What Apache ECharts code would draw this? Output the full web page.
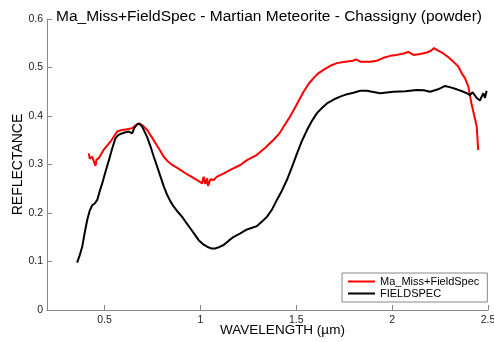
<!DOCTYPE html>
<html><head><meta charset="utf-8">
<script src="https://cdn.jsdelivr.net/npm/echarts@6/dist/echarts.min.js"></script>
<style>html,body{margin:0;padding:0;background:#fff}#c{width:494px;height:342px}</style>
</head><body><div id="c"></div>
<script>
const seriesNames = ['Ma_Miss+FieldSpec', 'FIELDSPEC'];
const xTicks = [0.5, 1, 1.5, 2, 2.5];

const mamissWavelength = [0.418,0.423,0.435,0.446,0.453,0.458,0.470,0.495,0.531,0.566,0.590,0.618,0.645,0.660,0.679,0.700,0.722,0.744,0.766,0.788,0.809,0.831,0.853,0.875,0.896,0.918,0.939,0.961,0.983,1.009,1.017,1.026,1.035,1.040,1.052,1.069,1.087,1.120,1.156,1.208,1.243,1.295,1.340,1.382,1.410,1.434,1.460,1.486,1.512,1.538,1.564,1.590,1.615,1.642,1.675,1.712,1.755,1.798,1.812,1.833,1.885,1.920,1.955,1.990,2.025,2.059,2.085,2.111,2.146,2.181,2.200,2.219,2.240,2.267,2.290,2.311,2.330,2.345,2.363,2.380,2.398,2.407,2.415,2.432,2.441,2.449];
const mamissReflectance = [0.323,0.312,0.316,0.305,0.297,0.310,0.313,0.330,0.347,0.368,0.371,0.3725,0.375,0.380,0.385,0.380,0.371,0.358,0.344,0.330,0.316,0.306,0.299,0.294,0.289,0.283,0.278,0.273,0.268,0.261,0.275,0.260,0.2715,0.2557,0.2695,0.268,0.275,0.281,0.289,0.299,0.309,0.320,0.335,0.351,0.363,0.378,0.394,0.412,0.431,0.450,0.466,0.478,0.488,0.495,0.503,0.509,0.512,0.514,0.517,0.512,0.512,0.514,0.520,0.524,0.526,0.529,0.532,0.526,0.528,0.531,0.534,0.540,0.535,0.529,0.522,0.515,0.508,0.502,0.488,0.478,0.460,0.440,0.423,0.395,0.378,0.330];

const fieldspecWavelength = [0.357,0.370,0.384,0.397,0.410,0.423,0.436,0.450,0.462,0.475,0.488,0.505,0.523,0.540,0.557,0.570,0.583,0.605,0.627,0.644,0.655,0.670,0.682,0.696,0.722,0.740,0.757,0.775,0.792,0.809,0.827,0.844,0.861,0.883,0.905,0.926,0.948,0.970,0.991,1.013,1.035,1.056,1.078,1.100,1.121,1.148,1.174,1.208,1.243,1.295,1.320,1.347,1.373,1.399,1.425,1.451,1.478,1.504,1.530,1.556,1.582,1.608,1.635,1.660,1.695,1.729,1.765,1.798,1.833,1.868,1.9375,2.007,2.070,2.128,2.165,2.198,2.240,2.276,2.305,2.337,2.365,2.389,2.406,2.420,2.441,2.458,2.467,2.476,2.484,2.493];
const fieldspecReflectance = [0.0976,0.112,0.131,0.160,0.186,0.205,0.216,0.220,0.227,0.245,0.261,0.285,0.309,0.333,0.354,0.360,0.363,0.366,0.368,0.364,0.375,0.383,0.384,0.378,0.357,0.337,0.316,0.295,0.275,0.255,0.237,0.224,0.213,0.202,0.192,0.180,0.168,0.156,0.144,0.136,0.1305,0.127,0.127,0.130,0.134,0.143,0.151,0.158,0.166,0.173,0.182,0.192,0.207,0.227,0.246,0.268,0.295,0.323,0.349,0.371,0.390,0.406,0.417,0.426,0.434,0.440,0.445,0.448,0.452,0.452,0.447,0.450,0.451,0.4536,0.453,0.450,0.455,0.462,0.459,0.455,0.451,0.447,0.443,0.449,0.437,0.432,0.440,0.447,0.437,0.452];

const zip = (a, b) => a.map((v, i) => [v, b[i]]);
const font = 'Liberation Sans, Arial, Helvetica, sans-serif';
const chart = echarts.init(document.getElementById('c'));
chart.setOption({
  animation: false,
  backgroundColor: '#fff',
  title: {
    text: 'Ma_Miss+FieldSpec - Martian Meteorite - Chassigny (powder)',
    left: 56, top: 9, padding: 0,
    textStyle: {fontFamily: font, fontSize: 15.5, fontWeight: 'normal', color: '#000'}
  },
  legend: {
    orient: 'vertical', left: 342, top: 273,
    padding: [3, 8, 3, 6], itemGap: 1, itemWidth: 27, itemHeight: 2, icon: 'rect',
    backgroundColor: '#fff', borderColor: '#888', borderWidth: 1,
    textStyle: {fontFamily: font, fontSize: 11, color: '#000'},
    data: seriesNames
  },
  grid: {left: 47, top: 19, right: 6, bottom: 32, outerBoundsMode: 'none'},
  xAxis: {
    type: 'value', min: 0.2, max: 2.5,
    name: 'WAVELENGTH (µm)', nameLocation: 'middle', nameGap: 13, nameMoveOverlap: false,
    nameTextStyle: {fontFamily: font, fontSize: 13.5, color: '#000', padding: [0, 0, 0, 30]},
    axisLine: {lineStyle: {color: '#888', width: 1}},
    axisTick: {inside: true, length: 5, lineStyle: {color: '#888'}, customValues: xTicks},
    axisLabel: {fontFamily: font, fontSize: 10.5, color: '#222', margin: 5, customValues: xTicks},
    splitLine: {show: false}
  },
  yAxis: {
    type: 'value', min: 0, max: 0.6, interval: 0.1,
    name: 'REFLECTANCE', nameLocation: 'middle', nameGap: 22, nameRotate: 90, nameMoveOverlap: false,
    nameTextStyle: {fontFamily: font, fontSize: 14, color: '#000'},
    axisLine: {show: true, lineStyle: {color: '#888', width: 1}},
    axisTick: {show: true, inside: true, length: 5, lineStyle: {color: '#888'}},
    axisLabel: {fontFamily: font, fontSize: 10.5, color: '#222', margin: 4,
      formatter: v => v === 0 ? '0' : v.toFixed(1)},
    splitLine: {show: false}
  },
  series: [
    {name: seriesNames[0], type: 'line', data: zip(mamissWavelength, mamissReflectance),
     showSymbol: false, color: '#ff0000', lineStyle: {width: 2, color: '#ff0000'}},
    {name: seriesNames[1], type: 'line', data: zip(fieldspecWavelength, fieldspecReflectance),
     showSymbol: false, color: '#000', lineStyle: {width: 2, color: '#000'}}
  ]
});
</script></body></html>
